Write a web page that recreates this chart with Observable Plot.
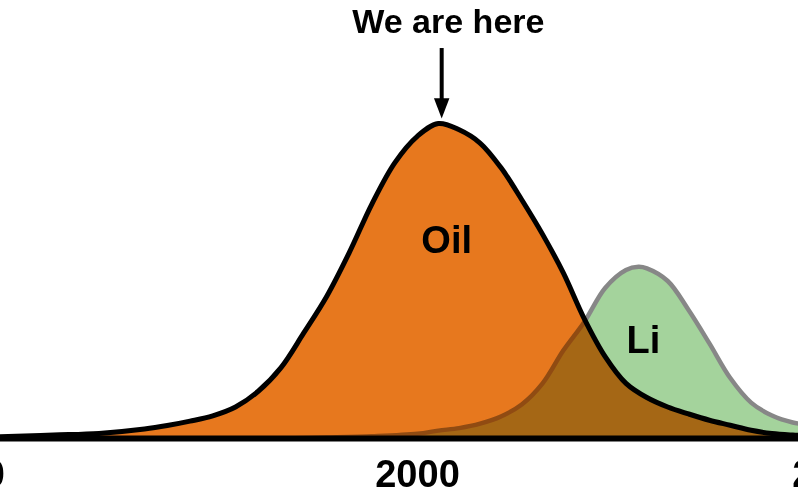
<!DOCTYPE html>
<html>
<head>
<meta charset="utf-8">
<script src="https://cdn.jsdelivr.net/npm/d3@7"></script>
<script src="https://cdn.jsdelivr.net/npm/@observablehq/plot@0.6"></script>
<style>
  html, body { margin: 0; padding: 0; background: #fff; overflow: hidden; }
  #chart svg { display: block; overflow: hidden; }
</style>
</head>
<body>
<div id="chart"></div>
<script>
// Tick labels
const tickYears = [1900, 2000, 2100];
const tickLabels = ["1900", "2000", "2100"];

// Oil production curve (relative units, peak = 100)
const oilYears = [1900, 1910, 1920, 1930, 1940, 1945, 1950, 1955, 1960, 1965, 1970, 1975, 1980, 1985, 1990, 1995, 2000, 2005, 2010, 2015, 2020, 2025, 2030, 2035, 2040, 2045, 2050, 2055, 2060, 2065, 2070, 2075, 2080, 2085, 2090, 2100];
const oilValues = [0.3, 0.6, 1.1, 1.6, 3.0, 4.1, 5.5, 7.2, 10.0, 15.0, 22.5, 33.5, 45.0, 59.0, 74.5, 87.5, 96.0, 100, 98.0, 93.8, 86.0, 75.8, 64.8, 52.5, 38.0, 26.0, 17.5, 13.0, 10.0, 7.8, 5.8, 4.2, 2.6, 1.6, 1.1, 0.5];

// Lithium curve (same units)
const liYears = [1970, 1980, 1990, 2000, 2005, 2010, 2015, 2020, 2025, 2030, 2035, 2040, 2045, 2050, 2053, 2055, 2060, 2065, 2070, 2075, 2080, 2085, 2090, 2095, 2100];
const liValues = [0, 0.3, 0.7, 1.5, 2.5, 3.3, 4.7, 7.0, 10.8, 17.5, 28.0, 37.0, 47.8, 53.5, 54.5, 54.0, 50.0, 40.8, 30.2, 19.2, 11.4, 7.3, 5.1, 4.2, 3.5];

// Annotations
const labels = [
  {year: 2007.0, value: 59.0, text: "Oil"},
  {year: 2054.2, value: 27.3, text: "Li"}
];
const marker = {year: 2005.8, top: 123.8, bottom: 106.5, head: 104.8, text: "We are here", textYear: 2007.4, textValue: 128.6};

const oil = oilYears.map((y, i) => ({year: y, value: oilValues[i]}));
const li = liYears.map((y, i) => ({year: y, value: liValues[i]}));

// narrow filled arrowhead symbol (points down)
const arrowHead = {
  draw(context, size) {
    const h = Math.sqrt(size);
    const w = h * 0.38;
    context.moveTo(-w, -h * 0.5);
    context.lineTo(w, -h * 0.5);
    context.lineTo(0, h * 0.5);
    context.closePath();
  }
};

const font = "'Liberation Sans', Arial, Helvetica, sans-serif";
const curve = "catmull-rom";

const chart = Plot.plot({
  width: 798,
  height: 500,
  marginLeft: 0,
  marginRight: 0,
  marginTop: 0,
  marginBottom: 62,
  style: {fontFamily: font, background: "#fff", color: "#000"},
  x: {type: "linear", domain: [1900, 2000, 2100], range: [-38, 417, 834], axis: null},
  y: {domain: [0, 100], range: [438, 123], axis: null},
  marks: [
    Plot.areaY(li, {x: "year", y: "value", fill: "#A4D39C", curve}),
    Plot.lineY(li, {x: "year", y: "value", stroke: "#878787", strokeWidth: 4.5, curve}),
    Plot.areaY(oil, {x: "year", y: "value", fill: "#E8781E", curve, mixBlendMode: "multiply"}),
    Plot.areaY(oil, {x: "year", y: "value", fill: "#E8781E", fillOpacity: 0.2, curve}),
    Plot.lineY(oil, {x: "year", y: "value", stroke: "#000", strokeWidth: 5, curve}),
    Plot.ruleY([0], {stroke: "#000", strokeWidth: 6}),
    Plot.text(labels, {x: "year", y: "value", text: "text", fontSize: 38, fontWeight: "bold", fill: "#000", lineAnchor: "bottom", textAnchor: "middle"}),
    Plot.ruleX([marker], {x: "year", y1: "top", y2: "bottom", stroke: "#000", strokeWidth: 4}),
    Plot.dot([marker], {x: "year", y: "head", symbol: arrowHead, r: 11.5, fill: "#000", stroke: "none"}),
    Plot.text([marker], {x: "textYear", y: "textValue", text: "text", fontSize: 34, fontWeight: "bold", fill: "#000", lineAnchor: "bottom", textAnchor: "middle"}),
    Plot.axisX({ticks: tickYears, tickFormat: (d) => tickLabels[tickYears.indexOf(d)], tickSize: 0, tickPadding: 22, fontSize: 38, fontWeight: "bold", label: null, fill: "#000"})
  ]
});
document.getElementById("chart").appendChild(chart);
</script>
</body>
</html>
